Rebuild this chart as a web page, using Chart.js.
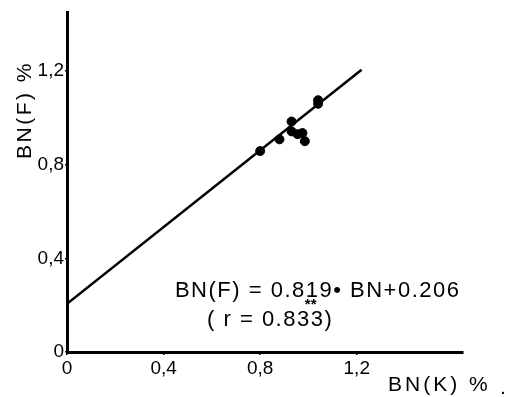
<!DOCTYPE html>
<html>
<head>
<meta charset="utf-8">
<script src="https://cdn.jsdelivr.net/npm/chart.js@4.4.0/dist/chart.umd.min.js"></script>
<style>
  html, body { margin: 0; padding: 0; background: #fff; }
  #wrap { width: 515px; height: 397px; }
</style>
</head>
<body>
<div id="wrap"><canvas id="chart" width="515" height="397"></canvas></div>
<script>
/* BN(F) vs BN(K) scatter with regression line */

const pointsX = [0.80, 0.88, 0.93, 0.93, 0.955, 0.975, 0.985, 1.04, 1.04];
const pointsY = [0.858, 0.908, 0.984, 0.942, 0.93, 0.935, 0.90, 1.075, 1.06];

const fitX = [0, 1.22];
const fitY = [0.206, 1.205];

const xTicks = [0, 0.4, 0.8, 1.2];
const yTicks = [0, 0.4, 0.8, 1.2];

const FONT = '"Liberation Sans", Arial, sans-serif';
const fmt = v => v === 0 ? '0' : v.toFixed(1).replace('.', ',');

const textPlugin = {
  id: 'texts',
  afterDraw(chart) {
    const { ctx, scales: { x, y } } = chart;
    ctx.save();
    ctx.fillStyle = '#000';
    ctx.textBaseline = 'middle';

    // y axis title
    ctx.save();
    ctx.translate(25, 110);
    ctx.rotate(-Math.PI / 2);
    ctx.textAlign = 'center';
    ctx.font = '21px ' + FONT;
    ctx.letterSpacing = '2.5px';
    ctx.fillText('BN(F) %', 0, 0);
    ctx.restore();

    // x axis title
    ctx.font = '21px ' + FONT;
    ctx.textAlign = 'left';
    ctx.letterSpacing = '3px';
    ctx.fillText('BN(K) %', 388, 385);
    ctx.letterSpacing = '0px';
    ctx.fillText('.', 500, 388);

    // regression equation
    ctx.font = '22px ' + FONT;
    ctx.letterSpacing = '1.5px';
    ctx.fillText('BN(F) = 0.819• BN+0.206', x.getPixelForValue(0.447), y.getPixelForValue(0.26));
    ctx.fillText('( r = 0.833)', x.getPixelForValue(0.58), y.getPixelForValue(0.135));
    ctx.font = 'bold 15px ' + FONT;
    ctx.letterSpacing = '0px';
    ctx.fillText('**', x.getPixelForValue(0.985), y.getPixelForValue(0.2));
    ctx.restore();
  }
};

new Chart(document.getElementById('chart'), {
  type: 'scatter',
  data: {
    datasets: [
      {
        data: pointsX.map((v, i) => ({ x: v, y: pointsY[i] })),
        backgroundColor: '#000', borderColor: '#000',
        pointRadius: 4.5, pointHoverRadius: 4.5
      },
      {
        type: 'line',
        data: fitX.map((v, i) => ({ x: v, y: fitY[i] })),
        borderColor: '#000', borderWidth: 2.5,
        pointRadius: 0, fill: false
      }
    ]
  },
  options: {
    responsive: false,
    animation: false,
    events: [],
    layout: { padding: { top: 5, right: 52, left: 0, bottom: 0 } },
    plugins: { legend: { display: false }, tooltip: { enabled: false } },
    scales: {
      x: {
        type: 'linear', min: 0, max: 1.64,
        afterBuildTicks: s => { s.ticks = xTicks.map(v => ({ value: v })); },
        afterFit: s => { s.height = 45; },
        border: { color: '#000', width: 3 },
        grid: { drawOnChartArea: false, tickLength: 3, color: '#000', lineWidth: 1.5 },
        ticks: { color: '#000', padding: 2, maxRotation: 0,
                 font: { family: FONT, size: 19 }, callback: fmt }
      },
      y: {
        type: 'linear', min: 0, max: 1.45,
        afterBuildTicks: s => { s.ticks = yTicks.map(v => ({ value: v })); },
        afterFit: s => { s.width = 67; },
        border: { color: '#000', width: 3 },
        grid: { drawOnChartArea: false, tickLength: 2, color: '#000', lineWidth: 1.5 },
        ticks: { color: '#000', padding: 1,
                 font: { family: FONT, size: 19 }, callback: fmt }
      }
    }
  },
  plugins: [textPlugin]
});
</script>
</body>
</html>
